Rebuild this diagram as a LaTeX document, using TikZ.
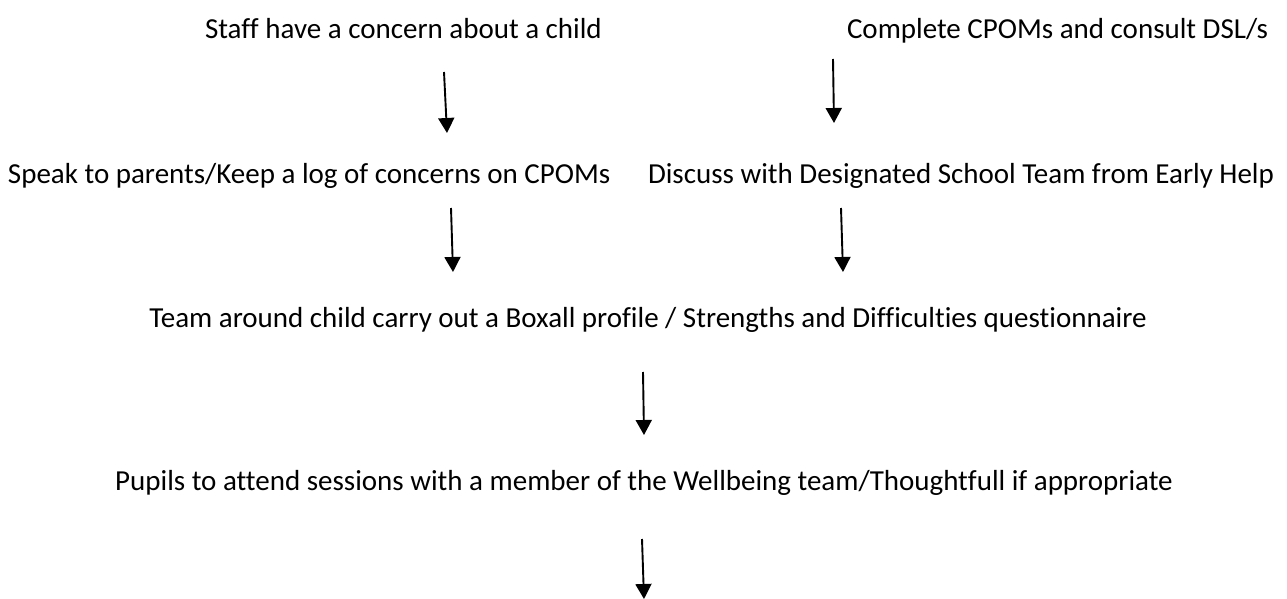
\documentclass[tikz,border=0pt]{standalone}
\usepackage{fontspec}
\setmainfont{Carlito}[Ligatures=NoCommon]
\usetikzlibrary{arrows.meta}
\begin{document}
\begin{tikzpicture}[x=1pt,y=-1pt,
  lbl/.style={inner sep=0pt,outer sep=0pt,font=\fontsize{29}{35}\selectfont},
  arr/.style={line width=1.9pt,-{Triangle[length=15pt,width=16pt]}}]
\useasboundingbox (0,0) rectangle (1287,599);
\node[lbl,anchor=base west] (r1l) at (205,39) {Staff have a concern about a child};
\node[lbl,anchor=base west] (r1r) at (847,39) {Complete CPOMs and consult DSL/s};
\node[lbl,anchor=base west] (r2l) at (8,183) {Speak to parents/Keep a log of concerns on CPOMs};
\node[lbl,anchor=base west] (r2r) at (648,183) {Discuss with Designated School Team from Early Help};
\node[lbl,anchor=base] (r3) at (648,327) {Team around child carry out a Boxall profile / Strengths and Difficulties questionnaire};
\node[lbl,anchor=base] (r4) at (644,490) {Pupils to attend sessions with a member of the Wellbeing team/Thoughtfull if appropriate};
\coordinate (a1s) at (444,72); \coordinate (a1e) at (447,133);
\coordinate (a2s) at (833,59); \coordinate (a2e) at (834,123);
\coordinate (a3s) at (451,208); \coordinate (a3e) at (453,272);
\coordinate (a4s) at (841,208); \coordinate (a4e) at (843,272);
\coordinate (a5s) at (643,372); \coordinate (a5e) at (644,435);
\coordinate (a6s) at (642,539); \coordinate (a6e) at (644,599);
\draw[arr] (a1s) -- (a1e);
\draw[arr] (a2s) -- (a2e);
\draw[arr] (a3s) -- (a3e);
\draw[arr] (a4s) -- (a4e);
\draw[arr] (a5s) -- (a5e);
\draw[arr] (a6s) -- (a6e);
\end{tikzpicture}
\end{document}
